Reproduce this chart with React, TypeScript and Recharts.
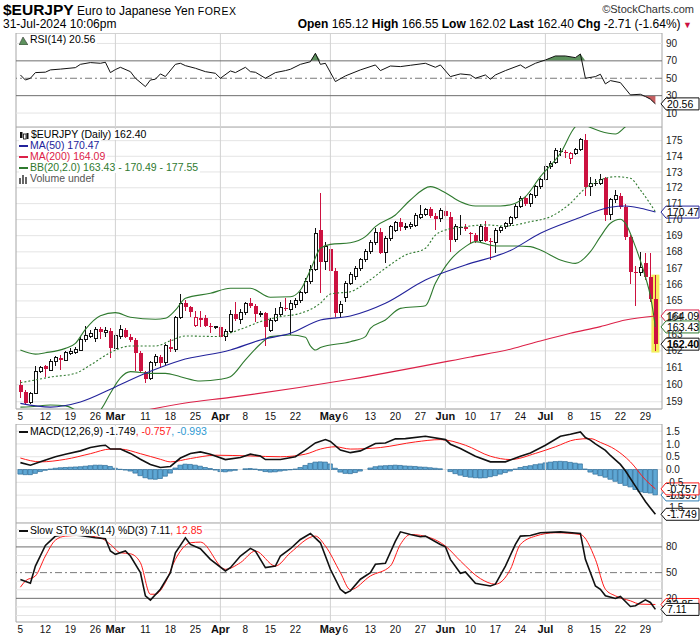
import React from 'react';
import {
  ComposedChart, Bar, Line, Area, XAxis, YAxis, CartesianGrid, ReferenceLine, ReferenceArea,
} from 'recharts';

// daily candles, index 0 = 5 Feb 2024 ... index 127 = 31 Jul 2024
const opens = [
  160.00, 159.55, 158.95, 159.50, 160.80, 161.10, 160.85, 161.35, 161.60, 161.45,
  161.85, 161.90, 162.05, 162.70, 162.85, 162.75, 163.30, 163.10, 163.20, 162.15,
  162.85, 163.25, 162.85, 162.65, 161.90, 160.75, 160.35, 161.30, 161.65, 161.30,
  162.25, 162.10, 164.00, 164.90, 164.65, 163.50, 163.90, 163.95, 163.50, 163.40,
  163.45, 162.85, 163.15, 164.20, 163.90, 164.30, 164.85, 164.70, 164.20, 164.25,
  163.20, 163.80, 164.20, 164.60, 164.50, 164.80, 165.00, 165.50, 166.15, 166.90,
  169.35, 167.40, 168.20, 166.85, 164.30, 165.20, 166.05, 166.50, 167.00, 167.50,
  168.00, 168.60, 169.20, 167.95, 168.80, 169.35, 169.85, 169.55, 169.60, 169.65,
  170.15, 170.35, 170.65, 170.20, 170.05, 170.55, 170.15, 168.75, 169.55, 169.55,
  169.15, 169.05, 168.70, 169.55, 168.70, 168.60, 169.35, 169.55, 169.75, 170.15,
  170.85, 171.35, 171.00, 171.50, 172.05, 172.50, 173.35, 173.60, 174.35, 174.30,
  173.85, 174.20, 174.45, 175.05, 172.05, 172.30, 172.30, 172.60, 170.30, 171.25,
  171.50, 170.80, 168.90, 166.75, 166.70, 167.30, 166.45, 165.12,
];
const highs = [
  160.30, 159.70, 159.60, 161.10, 161.10, 161.15, 161.50, 161.70, 161.75, 162.00,
  162.15, 162.25, 162.80, 163.50, 163.25, 163.45, 163.40, 163.40, 163.35, 163.05,
  163.55, 163.35, 163.00, 162.75, 162.00, 160.80, 161.40, 161.80, 161.75, 162.40,
  162.70, 164.10, 165.40, 165.05, 164.70, 164.40, 164.40, 164.15, 163.65, 163.50,
  163.55, 163.30, 164.45, 164.95, 164.50, 164.95, 165.15, 164.80, 164.40, 164.30,
  163.95, 164.60, 164.95, 165.15, 165.05, 165.15, 165.60, 166.40, 167.20, 169.45,
  171.70, 168.60, 168.60, 167.00, 165.00, 166.20, 166.75, 167.15, 167.60, 168.15,
  168.75, 169.45, 169.50, 168.95, 169.65, 169.90, 170.10, 169.80, 169.85, 170.40,
  170.90, 170.75, 170.80, 170.40, 170.70, 170.85, 170.45, 169.70, 170.30, 169.70,
  169.20, 169.15, 169.70, 169.90, 168.85, 169.45, 169.60, 169.85, 170.25, 170.95,
  171.45, 171.50, 171.65, 172.20, 172.60, 173.50, 173.70, 174.50, 174.55, 174.40,
  174.30, 174.55, 175.20, 175.40, 172.70, 172.55, 172.85, 172.70, 171.35, 171.85,
  171.70, 170.95, 169.05, 167.10, 168.00, 167.95, 167.90, 166.55,
];
const lows = [
  159.20, 158.85, 158.85, 159.45, 160.70, 160.45, 160.80, 161.10, 160.85, 161.40,
  161.75, 161.80, 162.00, 162.55, 162.75, 162.55, 162.70, 162.80, 161.55, 162.05,
  162.70, 162.75, 162.50, 160.80, 160.70, 160.10, 160.25, 161.10, 161.00, 161.15,
  161.95, 161.95, 163.90, 164.40, 164.00, 163.40, 163.45, 163.45, 163.05, 163.30,
  162.75, 162.60, 163.05, 163.80, 163.60, 164.15, 164.55, 163.70, 164.05, 162.30,
  163.10, 163.70, 164.10, 164.40, 162.95, 164.60, 164.90, 165.40, 166.00, 166.80,
  165.50, 166.90, 164.05, 164.00, 164.00, 164.95, 165.95, 166.30, 166.85, 167.35,
  167.85, 168.45, 167.85, 167.30, 168.70, 169.20, 169.30, 169.35, 169.40, 169.55,
  170.05, 170.20, 170.10, 169.35, 169.85, 170.10, 168.00, 168.60, 169.05, 169.30,
  168.50, 168.55, 168.60, 168.60, 167.50, 167.90, 169.15, 169.40, 169.60, 170.05,
  170.70, 170.85, 170.80, 171.35, 171.90, 172.40, 173.20, 173.50, 174.00, 173.90,
  173.50, 174.05, 174.35, 171.45, 171.45, 172.10, 172.15, 169.90, 169.95, 171.05,
  170.65, 168.75, 166.05, 164.70, 166.50, 166.30, 164.95, 162.02,
];
const closes = [
  159.55, 158.95, 159.50, 160.80, 161.00, 160.90, 161.35, 161.60, 161.45, 161.90,
  161.95, 162.10, 162.70, 162.90, 163.05, 163.30, 163.15, 163.20, 162.15, 162.90,
  163.25, 162.85, 162.65, 161.85, 160.80, 160.35, 161.30, 161.65, 161.30, 162.30,
  162.10, 164.00, 164.85, 164.65, 164.35, 164.00, 163.95, 163.50, 163.40, 163.45,
  162.85, 163.15, 164.20, 163.90, 164.30, 164.85, 164.70, 164.20, 164.25, 163.45,
  163.80, 164.20, 164.60, 164.50, 164.85, 165.05, 165.50, 166.15, 166.90, 169.15,
  167.40, 168.30, 166.85, 164.25, 164.80, 166.05, 166.60, 167.00, 167.50, 168.00,
  168.60, 169.20, 167.90, 168.80, 169.55, 169.80, 169.55, 169.60, 169.70, 170.25,
  170.35, 170.65, 170.20, 170.05, 170.60, 170.20, 168.75, 169.55, 169.55, 169.40,
  169.10, 168.70, 169.55, 168.70, 168.60, 169.35, 169.50, 169.75, 170.15, 170.85,
  171.35, 171.00, 171.55, 172.05, 172.50, 173.35, 173.55, 174.35, 174.35, 174.25,
  174.20, 174.45, 175.05, 172.05, 172.30, 172.30, 172.50, 170.30, 171.25, 171.50,
  170.80, 168.90, 166.75, 166.70, 167.05, 166.45, 165.11, 162.40,
];

// overlays and indicators: [day index, value]
const ma50Pts = [
  [0, 158.91], [6, 158.69], [12, 158.99], [19, 159.87], [25, 160.67], [32, 161.43], [42, 162.05],
  [48, 162.65], [54, 163.05], [60, 163.85], [66, 164.09], [73, 164.86], [81, 166.27], [89, 167.19],
  [98, 168.08], [104, 169.15], [111, 170.02], [118, 170.77], [121, 170.85], [124, 170.71], [127, 170.47],
];
const ma200Pts = [
  [20, 158.2], [33, 158.93], [42, 159.26], [66, 160.32], [90, 161.64], [98, 162.1], [104, 162.59],
  [110, 163.05], [116, 163.45], [121, 163.85], [127, 164.09],
];
const bbUpperPts = [
  [0, 162.05], [3, 161.81], [5, 161.89], [9, 162.15], [11, 162.45], [13, 163.29], [16, 164.11],
  [19, 164.29], [22, 164.01], [27, 163.89], [29, 163.95], [31, 164.44], [33, 165.16], [38, 165.46],
  [42, 165.77], [46, 165.77], [50, 165.22], [54, 165.25], [56, 165.66], [58, 166.88], [60, 168.22],
  [62, 168.46], [66, 168.56], [69, 168.94], [71, 169.56], [75, 170.29], [78, 171.23], [82, 172.07],
  [85, 171.69], [88, 171.12], [91, 170.85], [96, 170.85], [99, 171.02], [101, 171.44], [104, 172.7],
  [108, 174.19], [111, 175.9], [112, 176.1], [114, 175.85], [116, 175.6], [119, 175.43], [121, 175.9],
  [124, 176.7], [127, 177.55],
];
const bbMidPts = [
  [0, 160.12], [3, 160.28], [6, 160.45], [11, 160.67], [14, 161.16], [18, 161.9], [22, 162.29],
  [27, 162.29], [30, 162.6], [33, 162.89], [39, 162.86], [44, 163.29], [48, 163.75], [52, 164.05],
  [56, 164.25], [60, 164.86], [62, 165.42], [66, 165.56], [69, 166.07], [73, 166.99], [77, 167.8],
  [81, 168.22], [83, 169.04], [85, 169.35], [89, 169.56], [93, 169.67], [97, 169.6], [102, 169.87],
  [106, 170.18], [110, 171.02], [113, 171.97], [116, 172.49], [119, 172.7], [122, 172.6], [124, 171.86],
  [127, 170.49],
];
const bbLowerPts = [
  [0, 158.69], [2, 158.71], [6, 158.81], [9, 158.76], [11, 158.52], [13, 158.1], [16, 158.52],
  [18, 159.5], [20, 160.4], [22, 160.77], [26, 160.67], [29, 160.67], [32, 160.47], [36, 160.22],
  [40, 160.32], [42, 160.47], [45, 161.46], [48, 162.41], [50, 162.85], [54, 162.95], [57, 162.81],
  [58, 162.3], [59, 162.05], [60, 162.2], [66, 162.55], [69, 162.85], [70, 163.35], [73, 163.85],
  [76, 164.55], [81, 164.71], [83, 166.07], [86, 167.5], [89, 168.32], [91, 168.63], [95, 168.36],
  [99, 168.36], [102, 168.32], [104, 168.11], [108, 167.5], [111, 167.29], [114, 168.01], [116, 168.94],
  [118, 169.77], [120, 170.02], [121, 169.77], [123, 168.32], [125, 166.47], [126, 165.3], [127, 163.43],
];
const rsiPts = [
  [0, 53.8], [1, 48], [2, 50], [3, 56.5], [5, 57], [6, 59.6], [8, 60.5], [11, 62.2], [12, 66], [14, 68],
  [16, 67.2], [17, 68.4], [18, 56.5], [19, 60], [20, 62.6], [22, 57.6], [23, 50], [25, 40.4], [26, 48],
  [27, 48.9], [28, 55], [29, 52], [31, 66], [32, 67.2], [33, 64.5], [35, 61.5], [37, 57.6], [39, 55.7],
  [40, 50], [42, 58.4], [43, 56.5], [45, 62.6], [46, 57.6], [47, 56.9], [49, 50], [51, 56.5], [53, 58.8],
  [54, 60.3], [56, 66], [58, 69], [59, 78.7], [60, 66], [61, 67.2], [63, 46.2], [65, 52.7], [68, 59.6],
  [71, 65.3], [72, 58.8], [74, 64.1], [76, 63.4], [78, 64.9], [81, 67.2], [83, 62.6], [84, 65.3],
  [86, 51.9], [88, 55], [90, 53.8], [91, 50], [93, 53.8], [94, 48.9], [95, 53.8], [97, 58.8], [100, 65.3],
  [101, 61.5], [103, 67.2], [105, 71], [107, 75.6], [109, 75.6], [111, 73.7], [112, 77.9], [113, 50],
  [115, 51.9], [116, 54.6], [117, 43.5], [118, 47.3], [120, 45], [122, 30.9], [124, 31.6], [125, 29],
  [126, 26], [127, 20.56],
];
const macdPts = [
  [0, 0.27], [2, 0.17], [4, 0.3], [7, 0.5], [9, 0.6], [12, 0.73], [14, 0.86], [16, 0.93], [17, 0.95],
  [18, 0.8], [20, 0.8], [22, 0.63], [24, 0.4], [26, 0.2], [28, 0.08], [30, 0.12], [32, 0.45], [34, 0.63],
  [36, 0.69], [38, 0.6], [41, 0.39], [44, 0.47], [46, 0.6], [48, 0.53], [49, 0.39], [52, 0.39], [55, 0.5],
  [57, 0.76], [59, 1.04], [61, 1.17], [62, 1.1], [64, 0.76], [66, 0.66], [68, 0.73], [71, 1.02], [73, 1.04],
  [75, 1.2], [77, 1.21], [81, 1.3], [85, 1.17], [86, 0.99], [88, 0.82], [91, 0.52], [94, 0.3], [97, 0.3],
  [100, 0.52], [102, 0.65], [105, 0.95], [108, 1.3], [110, 1.38], [112, 1.47], [113, 1.25], [114, 1.15],
  [115, 1.0], [117, 0.75], [118, 0.55], [119, 0.38], [120, 0.2], [121, -0.05], [122, -0.35], [123, -0.65],
  [124, -0.95], [125, -1.25], [126, -1.5], [127, -1.749],
];
const signalPts = [
  [0, 0.45], [4, 0.3], [9, 0.4], [14, 0.62], [18, 0.8], [20, 0.8], [24, 0.62], [28, 0.4], [30, 0.3],
  [34, 0.43], [39, 0.56], [46, 0.53], [52, 0.5], [57, 0.6], [60, 0.8], [63, 0.89], [66, 0.8], [72, 0.86],
  [79, 1.08], [84, 1.17], [89, 0.95], [94, 0.52], [98, 0.39], [103, 0.63], [107, 0.89], [111, 1.17],
  [114, 1.21], [116, 1.06], [119, 0.78], [122, 0.3], [125, -0.4], [127, -0.757],
];
const histVals = [
  -0.18, -0.2, -0.2, -0.15, -0.08, -0.03, 0.02, 0.05, 0.07, 0.08,
  0.09, 0.1, 0.11, 0.13, 0.15, 0.17, 0.17, 0.16, 0.12, 0.05,
  0.01, -0.02, -0.06, -0.14, -0.24, -0.32, -0.37, -0.38, -0.35, -0.26,
  -0.14, 0.06, 0.17, 0.21, 0.2, 0.17, 0.13, 0.08, 0.04, -0.02,
  -0.08, -0.09, -0.06, -0.03, 0.0, 0.03, 0.04, 0.02, -0.03, -0.08,
  -0.1, -0.09, -0.06, -0.03, -0.01, 0.02, 0.08, 0.16, 0.24, 0.29,
  0.3, 0.29, 0.22, 0.05, -0.1, -0.15, -0.16, -0.12, -0.06, 0.0,
  0.06, 0.11, 0.14, 0.15, 0.16, 0.17, 0.16, 0.14, 0.13, 0.12,
  0.1, 0.09, 0.07, 0.05, 0.03, 0.0, -0.08, -0.16, -0.22, -0.27,
  -0.3, -0.32, -0.33, -0.32, -0.28, -0.24, -0.18, -0.12, -0.06, 0.02,
  0.08, 0.12, 0.15, 0.19, 0.22, 0.26, 0.29, 0.31, 0.32, 0.31,
  0.28, 0.25, 0.22, 0.02, -0.1, -0.18, -0.24, -0.3, -0.38, -0.46,
  -0.54, -0.62, -0.68, -0.78, -0.87, -0.9, -0.92, -0.99,
];
const stoKPts = [
  [0, 42], [2, 37.6], [3, 57.7], [5, 81.7], [7, 92.6], [9, 94.5], [12, 93.4], [15, 90.6], [17, 89.5],
  [18, 75.2], [19, 71.3], [21, 75.2], [22, 69.4], [24, 50], [25, 22.9], [26, 17.9], [28, 30.6], [30, 50],
  [31, 73.2], [33, 90.6], [34, 82.9], [36, 77.9], [38, 65.5], [41, 51.9], [42, 55.8], [44, 69.4],
  [46, 78.3], [47, 75.2], [49, 55.8], [51, 57.7], [52, 69.4], [54, 77.9], [56, 88.7], [58, 95.7],
  [60, 84.8], [62, 53.9], [64, 30.6], [65, 26], [66, 28.7], [68, 42.3], [70, 50], [71, 59.7], [73, 60.8],
  [75, 86.8], [76, 97.6], [78, 94.5], [80, 91.8], [81, 92.6], [84, 82.9], [85, 80.2], [86, 65.5],
  [88, 49.2], [89, 50.8], [91, 37.6], [92, 36.5], [94, 34.5], [95, 36.5], [97, 57.7], [99, 82.9],
  [100, 92.6], [102, 93.4], [104, 96.5], [108, 97.6], [112, 95.7], [113, 65.5], [115, 34.5], [116, 30.6],
  [117, 22.9], [119, 19.8], [120, 22.1], [122, 10.5], [123, 11.3], [125, 18.3], [126, 15.2], [127, 7.11],
];
const stoDPts = [
  [0, 33], [1, 40.3], [3, 46.1], [5, 69.4], [7, 87.9], [9, 92.6], [12, 93.4], [16, 90.6], [18, 82.9],
  [20, 73.2], [22, 72], [24, 61.6], [26, 24.8], [27, 24.8], [29, 38.4], [31, 65.5], [34, 84.8], [36, 85.6],
  [41, 53.9], [44, 61.6], [47, 75.2], [51, 57.7], [54, 73.2], [59, 92.6], [61, 81], [64, 50], [66, 30],
  [70, 46.1], [74, 57.7], [76, 82.9], [78, 94.5], [82, 90.6], [85, 81], [88, 63.6], [92, 43], [95, 36.5],
  [98, 53.9], [100, 82.9], [103, 92.6], [107, 96.5], [112, 94.5], [115, 65.5], [117, 30.6], [119, 22.9],
  [122, 17.1], [124, 13.2], [127, 12.85],
];

const monthStarts = [19, 40, 62, 85, 105];
const dayTicks = [0, 5, 10, 15, 19, 25, 30, 35, 40, 45, 50, 55, 62, 65, 70, 75, 80, 85, 90, 95, 100, 105, 110, 115, 120, 125];
const dayLabels = ['5', '12', '19', '26', 'Mar', '11', '18', '25', 'Apr', '8', '15', '22', 'May', '6', '13', '20', '27', 'Jun', '10', '17', '24', 'Jul', '8', '15', '22', '29'];
const priceTicks = [159, 160, 161, 162, 163, 164, 165, 166, 167, 168, 169, 170, 171, 172, 173, 174, 175];

type Row = { [k: string]: number | undefined };
const rows: Row[] = opens.map((o, i) => ({
  i, o, h: highs[i], l: lows[i], c: closes[i], pc: i > 0 ? closes[i - 1] : undefined, hist: histVals[i],
}));
const put = (pts: number[][], key: string) => pts.forEach(([i, v]) => { rows[i][key] = v; });
put(ma50Pts, 'ma50');
put(ma200Pts, 'ma200');
put(bbUpperPts, 'bbU');
put(bbMidPts, 'bbM');
put(bbLowerPts, 'bbL');
put(rsiPts, 'rsi');
put(macdPts, 'macd');
put(signalPts, 'sig');
put(stoKPts, 'k');
put(stoDPts, 'd');

const FONT = '"Liberation Sans", Arial, Helvetica, sans-serif';
const X_DOM: [number, number] = [-0.88, 128.32];
const MARGIN = { top: 0, right: 0, bottom: 0, left: 16 };
const GRID = '#e4e4e4';
const MONTH = '#d2d2d2';
const BORDER = '#a6a6a6';
const RED = '#cc1140';
const NAVY = '#23239b';
const CRIMSON = '#dc2148';
const GREEN = '#2f7a2f';
const yTick = { fontSize: 10, fill: '#222', fontFamily: FONT };

const Candle = (props: any) => {
  const { x, y, width, height, payload } = props;
  if (!payload || height == null) return null;
  const { o, h, l, c, pc } = payload;
  const lh = Math.log(h);
  const ll = Math.log(l);
  const at = (p: number) => (lh === ll ? y : y + (height * (lh - Math.log(p))) / (lh - ll));
  const cx = Math.floor(x + width / 2) + 0.5;
  const up = pc === undefined ? c >= o : c >= pc;
  const col = up ? '#111' : RED;
  const top = at(Math.max(o, c));
  const bot = at(Math.min(o, c));
  const bh = Math.max(bot - top, 1);
  return (
    <g shapeRendering="crispEdges">
      <line x1={cx} x2={cx} y1={y} y2={y + height} stroke={col} strokeWidth={1} />
      {c > o ? (
        <rect x={cx - 1.5} y={top} width={3} height={bh} fill="#fff" stroke={col} strokeWidth={1} />
      ) : (
        <rect x={cx - 2} y={top} width={4} height={bh} fill={col} />
      )}
    </g>
  );
};

const Tag = (props: any) => {
  const { viewBox, text, color, bold } = props;
  if (!viewBox) return null;
  const x0 = viewBox.x + viewBox.width - 1;
  const y = viewBox.y;
  return (
    <g>
      <path
        d={`M${x0},${y} L${x0 + 5},${y - 6} L${x0 + 38},${y - 6} L${x0 + 38},${y + 6} L${x0 + 5},${y + 6} Z`}
        fill="#fff" stroke={color} strokeWidth={1}
      />
      <text x={x0 + 6} y={y + 3.7} fontSize={10.5} fontWeight={bold ? 'bold' : 'normal'} fill="#000" fontFamily={FONT}>
        {text}
      </text>
    </g>
  );
};

const DayTick = (p: any) => {
  const v = p.payload.value;
  const k = dayTicks.indexOf(v);
  const month = monthStarts.includes(v);
  return (
    <text x={p.x} y={p.y + 11} textAnchor="middle" fontSize={month ? 11 : 10} fontWeight={month ? 'bold' : 'normal'} fill="#111" fontFamily={FONT}>
      {dayLabels[k]}
    </text>
  );
};

const monthLines = () => monthStarts.map((m) => <ReferenceLine key={`m${m}`} x={m} stroke={MONTH} />);
const hLines = (vals: number[], stroke: string, dash?: string) =>
  vals.map((v) => <ReferenceLine key={`h${v}${stroke}`} y={v} stroke={stroke} strokeDasharray={dash} />);
const frame = (dom: number[]) => (
  <ReferenceArea x1={X_DOM[0]} x2={X_DOM[1]} y1={dom[0]} y2={dom[1]} fill="none" stroke={BORDER} />
);
const tag = (v: number, text: string, color: string, bold = false) => (
  <ReferenceLine key={`t${text}`} y={v} stroke="none" label={<Tag text={text} color={color} bold={bold} />} />
);

const RSI_DOM = [-6, 102];
const RsiPanel = () => (
  <ComposedChart width={700} height={94} data={rows} margin={MARGIN}>
    <XAxis type="number" dataKey="i" domain={X_DOM} hide allowDataOverflow />
    <YAxis orientation="right" width={38} domain={RSI_DOM} ticks={[10, 30, 50, 70, 90]} interval={0} tick={yTick}
      tickSize={0} tickMargin={4} axisLine={false} allowDataOverflow />
    {hLines([10, 90], GRID)}
    {monthLines()}
    {hLines([30, 70], '#6e6e6e')}
    {hLines([50], '#7a7a7a', '7 3 2 3')}
    <Area dataKey={(d: Row) => (d.rsi === undefined ? null : [70, Math.max(70, d.rsi)])} type="linear"
      fill="#5d915d" fillOpacity={1} stroke="none" connectNulls isAnimationActive={false} />
    <Area dataKey={(d: Row) => (d.rsi === undefined ? null : [Math.min(30, d.rsi), 30])} type="linear"
      fill="#c65e60" fillOpacity={1} stroke="none" connectNulls isAnimationActive={false} />
    <Line dataKey="rsi" type="linear" stroke="#111" strokeWidth={1} dot={false} connectNulls isAnimationActive={false} />
    {frame(RSI_DOM)}
    {tag(20.56, '20.56', '#111')}
  </ComposedChart>
);

const PRICE_DOM = [158.58, 175.88];
const PricePanel = () => (
  <ComposedChart width={700} height={298} data={rows} margin={MARGIN}>
    <CartesianGrid vertical={false} stroke={GRID} />
    <XAxis type="number" dataKey="i" domain={X_DOM} ticks={dayTicks} interval={0} tick={<DayTick />}
      tickSize={0} tickMargin={0} tickLine={false} axisLine={false} height={16} allowDataOverflow />
    <YAxis orientation="right" width={38} scale="log" domain={PRICE_DOM} ticks={priceTicks} interval={0} tick={yTick}
      tickSize={0} tickMargin={4} axisLine={false} allowDataOverflow />
    {monthLines()}
    <ReferenceArea x1={126.2} x2={127.8} y1={161.9} y2={166.6} fill="#f3ee5c" fillOpacity={1} stroke="none" />
    <Bar dataKey={(d: Row) => [d.l, d.h]} barSize={5} shape={<Candle />} isAnimationActive={false} />
    <Line dataKey="bbU" type="monotone" stroke={GREEN} strokeWidth={1.1} dot={false} connectNulls isAnimationActive={false} />
    <Line dataKey="bbL" type="monotone" stroke={GREEN} strokeWidth={1.1} dot={false} connectNulls isAnimationActive={false} />
    <Line dataKey="bbM" type="monotone" stroke={GREEN} strokeWidth={1.1} strokeDasharray="2 2" dot={false} connectNulls isAnimationActive={false} />
    <Line dataKey="ma50" type="monotone" stroke={NAVY} strokeWidth={1.1} dot={false} connectNulls isAnimationActive={false} />
    <Line dataKey="ma200" type="monotone" stroke={CRIMSON} strokeWidth={1.1} dot={false} connectNulls isAnimationActive={false} />
    {frame(PRICE_DOM)}
    {tag(170.47, '170.47', NAVY)}
    {tag(164.09, '164.09', CRIMSON)}
    {tag(163.43, '163.43', GREEN)}
    {tag(162.4, '162.40', '#111', true)}
  </ComposedChart>
);

const MACD_DOM = [-2.09, 1.78];
const MacdPanel = () => (
  <ComposedChart width={700} height={99} data={rows} margin={MARGIN}>
    <CartesianGrid vertical={false} stroke={GRID} />
    <XAxis type="number" dataKey="i" domain={X_DOM} hide allowDataOverflow />
    <YAxis orientation="right" width={38} domain={MACD_DOM} ticks={[-1.5, -1, -0.5, 0, 0.5, 1, 1.5]} interval={0}
      tickFormatter={(v: number) => v.toFixed(1)} tick={yTick} tickSize={0} tickMargin={4} axisLine={false} allowDataOverflow />
    {monthLines()}
    <Bar dataKey="hist" barSize={5} fill="#5ea7d4" stroke="#2c6b98" strokeWidth={0.7} isAnimationActive={false} />
    <Line dataKey="sig" type="monotone" stroke="#ff1a1a" strokeWidth={1} dot={false} connectNulls isAnimationActive={false} />
    <Line dataKey="macd" type="linear" stroke="#111" strokeWidth={1.6} dot={false} connectNulls isAnimationActive={false} />
    {frame(MACD_DOM)}
    {tag(-0.993, '-0.993', '#2f7fb5')}
    {tag(-0.757, '-0.757', '#ff1a1a')}
    {tag(-1.749, '-1.749', '#111')}
  </ComposedChart>
);

const STO_DOM = [-7.6, 107.9];
const StoPanel = () => (
  <ComposedChart width={700} height={116} data={rows} margin={MARGIN}>
    <XAxis type="number" dataKey="i" domain={X_DOM} ticks={dayTicks} interval={0} tick={<DayTick />}
      tickSize={0} tickMargin={0} tickLine={false} axisLine={false} height={17} allowDataOverflow />
    <YAxis orientation="right" width={38} domain={STO_DOM} ticks={[20, 50, 80]} interval={0} tick={yTick}
      tickSize={0} tickMargin={4} axisLine={false} allowDataOverflow />
    {hLines([0, 10, 30, 40, 60, 70, 90, 100], GRID)}
    {monthLines()}
    {hLines([20, 80], '#6e6e6e')}
    {hLines([50], '#7a7a7a', '7 3 2 3')}
    <Line dataKey="d" type="monotone" stroke="#ff1a1a" strokeWidth={1} dot={false} connectNulls isAnimationActive={false} />
    <Line dataKey="k" type="linear" stroke="#111" strokeWidth={1.6} dot={false} connectNulls isAnimationActive={false} />
    {frame(STO_DOM)}
    {tag(12.85, '12.85', '#ff1a1a')}
    {tag(7.11, '7.11', '#111')}
  </ComposedChart>
);

const legendLine: React.CSSProperties = {
  position: 'absolute', left: 19, fontSize: 10.5, lineHeight: '11px', fontFamily: FONT, background: 'rgba(255,255,255,0.9)',
  whiteSpace: 'nowrap', paddingRight: 2,
};
const dash = (color: string) => (
  <span style={{ display: 'inline-block', width: 9, height: 2, background: color, verticalAlign: 'middle', marginRight: 2 }} />
);

export default function App() {
  return (
    <div style={{ position: 'absolute', left: 0, top: 0, width: 700, height: 639, background: '#fff', overflow: 'hidden', fontFamily: FONT }}>
      <div style={{ position: 'absolute', left: 3, top: 1, whiteSpace: 'nowrap', color: '#000' }}>
        <span style={{ fontSize: 15.5, fontWeight: 'bold' }}>$EURJPY</span>
        <span style={{ fontSize: 12 }}> Euro to Japanese Yen </span>
        <span style={{ fontSize: 10.5, letterSpacing: 0.5 }}>FOREX</span>
      </div>
      <div style={{ position: 'absolute', right: 6, top: 3, fontSize: 11, color: '#333' }}>©StockCharts.com</div>
      <div style={{ position: 'absolute', left: 3, top: 17, fontSize: 12, color: '#000' }}>31-Jul-2024 10:06pm</div>
      <div style={{ position: 'absolute', right: 8, top: 17, fontSize: 12, color: '#000', whiteSpace: 'nowrap' }}>
        <b>Open</b> 165.12 <b>High</b> 166.55 <b>Low</b> 162.02 <b>Last</b> 162.40 <b>Chg</b> -2.71 (-1.64%)
        <span style={{ color: '#cc1140', fontSize: 9 }}> ▼</span>
      </div>

      <div style={{ position: 'absolute', left: 0, top: 33 }}><RsiPanel /></div>
      <div style={{ position: 'absolute', left: 0, top: 127 }}><PricePanel /></div>
      <div style={{ position: 'absolute', left: 0, top: 424 }}><MacdPanel /></div>
      <div style={{ position: 'absolute', left: 0, top: 523 }}><StoPanel /></div>

      <div style={{ ...legendLine, top: 34 }}>
        <svg width={9} height={9} style={{ verticalAlign: 'middle', marginRight: 2 }}>
          <path d="M0,9 L4,1 L9,9 Z" fill="#5d915d" stroke="#333" strokeWidth={0.6} />
        </svg>
        RSI(14) 20.56
      </div>

      <div style={{ ...legendLine, top: 129 }}>
        <svg width={10} height={9} style={{ verticalAlign: 'middle', marginRight: 2 }}>
          <rect x={1} y={1} width={2.5} height={6} fill="#111" />
          <rect x={4.5} y={3} width={2.5} height={5} fill="#fff" stroke="#111" strokeWidth={0.8} />
          <rect x={7.5} y={2} width={2} height={6} fill="#111" />
        </svg>
        $EURJPY (Daily) 162.40
      </div>
      <div style={{ ...legendLine, top: 140, color: NAVY }}>{dash(NAVY)}MA(50) 170.47</div>
      <div style={{ ...legendLine, top: 151, color: CRIMSON }}>{dash(CRIMSON)}MA(200) 164.09</div>
      <div style={{ ...legendLine, top: 162, color: GREEN }}>{dash(GREEN)}BB(20,2.0) 163.43 - 170.49 - 177.55</div>
      <div style={{ ...legendLine, top: 173, color: '#555' }}>
        <svg width={9} height={9} style={{ verticalAlign: 'middle', marginRight: 2 }}>
          <rect x={0} y={3} width={2} height={6} fill="#666" />
          <rect x={3} y={0} width={2} height={9} fill="#666" />
          <rect x={6} y={2} width={2} height={7} fill="#666" />
        </svg>
        Volume undef
      </div>

      <div style={{ ...legendLine, top: 426 }}>
        {dash('#111')}MACD(12,26,9) -1.749<span style={{ color: '#ff1a1a' }}>, -0.757</span>
        <span style={{ color: '#2f9ad2' }}>, -0.993</span>
      </div>
      <div style={{ ...legendLine, top: 525 }}>
        {dash('#111')}Slow STO %K(14) %D(3) 7.11<span style={{ color: '#ff1a1a' }}>, 12.85</span>
      </div>
    </div>
  );
}
